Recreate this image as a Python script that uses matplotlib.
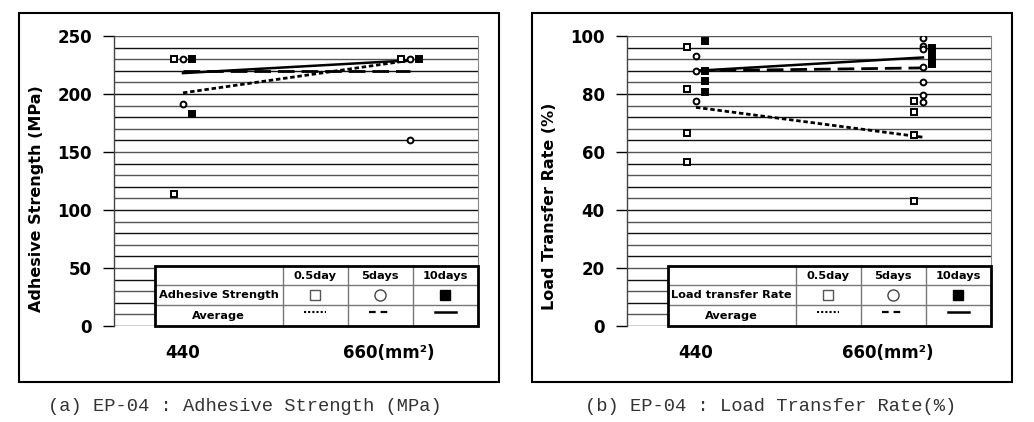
import numpy as np
import matplotlib.pyplot as plt
from matplotlib.lines import Line2D
from matplotlib.patches import Rectangle

# categories (bonded area, mm^2)
sizes = ['440', '660(mm²)']

# (a) adhesive strength, MPa -- visible points per category
adh_05day = [[230, 114], [230]]
adh_5days = [[230, 191], [230, 160]]
adh_10days = [[230, 183], [230]]
adh_avg_05day = [201, 229]
adh_avg_5days = [220, 220]
adh_avg_10days = [218, 229]

# (b) load transfer rate, %
ltr_05day = [[96.3, 81.7, 66.7, 56.7], [77.5, 73.8, 65.9, 43.0]]
ltr_5days = [[93.2, 88.0, 77.7], [99.4, 96.7, 95.5, 89.2, 84.1, 79.8, 77.4]]
ltr_10days = [[98.3, 88.0, 84.4, 80.7], [95.8, 93.4, 91.2, 90.2]]
ltr_avg_05day = [75.4, 65.1]
ltr_avg_5days = [88.0, 89.0]
ltr_avg_10days = [88.0, 92.6]

legend_cols = ['0.5day', '5days', '10days']

W, H = 1034, 422
fig = plt.figure(figsize=(W / 100, H / 100), dpi=100)

ls_05 = (0, (1.6, 1.0))
ls_5 = (0, (6, 2.5))


def draw_panel(left_px, data, avgs, ymax, ystep, ymajor, ylabel, rowlabel, xlab_pos, ylab_y):
    ax = fig.add_axes([left_px / W, (H - 326) / H, 364 / W, 290 / H])
    ax.set_xlim(-0.304, 1.30)
    ax.set_ylim(0, ymax)

    # horizontal grid
    for i, v in enumerate(np.arange(0, ymax + ystep / 2, ystep)):
        ax.axhline(v, color='#111' if i % 2 == 0 else '#555', lw=1.0, zorder=1)

    ax.set_yticks(np.arange(0, ymax + 1, ymajor))
    ax.tick_params(axis='y', length=8, width=1, color='black', pad=8,
                   labelsize=12)
    for t in ax.get_yticklabels():
        t.set_fontweight('bold')
    ax.set_xticks([])
    for s in ['top', 'bottom']:
        ax.spines[s].set_visible(False)
    ax.spines['left'].set_color('#444')
    ax.spines['right'].set_color('#888')
    ax.spines['left'].set_linewidth(1)
    ax.spines['right'].set_linewidth(0.8)

    ax.set_ylabel(ylabel, fontsize=11.5, fontweight='bold')
    ax.yaxis.set_label_coords(-0.193, ylab_y)

    # points
    offs = [-0.04, 0.0, 0.04]
    styles = [dict(marker='s', mfc='white', mec='black'),
              dict(marker='o', mfc='white', mec='black'),
              dict(marker='s', mfc='black', mec='black')]
    for series, off, st in zip(data, offs, styles):
        for ci, vals in enumerate(series):
            ax.plot([ci + off] * len(vals), vals, ls='none', ms=4.2, mew=1.4,
                    zorder=4, **st)

    # averages
    xs = np.arange(len(sizes))
    ax.plot(xs, avgs[0], color='black', lw=2.0, ls=ls_05, zorder=3)
    ax.plot(xs, avgs[1], color='black', lw=2.0, ls=ls_5, zorder=3)
    ax.plot(xs, avgs[2], color='black', lw=1.8, zorder=3)

    # x labels
    for x, lab in zip(xlab_pos, sizes):
        ax.text(x, -0.093, lab, transform=ax.get_xaxis_transform(),
                ha='center', va='center', fontsize=12, fontweight='bold')

    # legend table
    tx = [0.112, 0.463, 0.642, 0.821, 1.0]
    ty = [0.0, 0.072, 0.141, 0.207]
    tr = ax.transAxes
    ax.add_patch(Rectangle((tx[0], 0), 1 - tx[0], ty[3], transform=tr,
                           facecolor='white', edgecolor='none', zorder=5))
    for x in tx[1:-1]:
        ax.add_line(Line2D([x, x], [0, ty[3]], transform=tr, color='#777', lw=1, zorder=6))
    for y in ty[1:3]:
        ax.add_line(Line2D([tx[0], 1], [y, y], transform=tr, color='#777', lw=1, zorder=6))
    ax.add_patch(Rectangle((tx[0], 0), 1 - tx[0], ty[3], transform=tr,
                           facecolor='none', edgecolor='black', lw=2, zorder=7,
                           clip_on=False))
    cx = [(tx[i] + tx[i + 1]) / 2 for i in range(4)]
    cy = [(ty[i] + ty[i + 1]) / 2 for i in range(3)]
    kw = dict(transform=tr, ha='center', va='center', fontsize=8.2,
              fontweight='bold', zorder=8)
    for c, lab in zip(cx[1:], legend_cols):
        ax.text(c, cy[2], lab, **kw)
    ax.text(cx[0], cy[1], rowlabel, **kw)
    ax.text(cx[0], cy[0], 'Average', **kw)
    ax.plot(cx[1], cy[1], transform=tr, marker='s', ms=7.5, mfc='white', mec='#555', mew=1, zorder=8)
    ax.plot(cx[2], cy[1], transform=tr, marker='o', ms=8, mfc='white', mec='#444', mew=1, zorder=8)
    ax.plot(cx[3], cy[1], transform=tr, marker='s', ms=7.5, mfc='black', mec='black', zorder=8)
    d = 0.03
    yl = cy[0] + 0.012
    ax.add_line(Line2D([cx[1] - d, cx[1] + d], [yl] * 2, transform=tr, color='black', lw=1.5, ls=(0, (1, 1)), zorder=8))
    ax.add_line(Line2D([cx[2] - d, cx[2] + d], [yl] * 2, transform=tr, color='black', lw=1.6, ls=(0, (3, 2.2)), zorder=8))
    ax.add_line(Line2D([cx[3] - d, cx[3] + d], [yl] * 2, transform=tr, color='black', lw=1.8, zorder=8))
    return ax


draw_panel(114, [adh_05day, adh_5days, adh_10days],
           [adh_avg_05day, adh_avg_5days, adh_avg_10days],
           250, 10, 50, 'Adhesive Strength (MPa)', 'Adhesive Strength',
           [0.0, 0.907], 0.44)
draw_panel(627, [ltr_05day, ltr_5days, ltr_10days],
           [ltr_avg_05day, ltr_avg_5days, ltr_avg_10days],
           100, 4, 20, 'Load Transfer Rate (%)', 'Load transfer Rate',
           [0.0, 0.846], 0.414)

# outer frames
for x0 in [19, 532]:
    fig.add_artist(Rectangle((x0 / W, (H - 382) / H), 480 / W, 369 / H,
                             transform=fig.transFigure, facecolor='none',
                             edgecolor='black', lw=1.5))

fig.text(245 / W, 0.036, '(a) EP-04 : Adhesive Strength (MPa)', ha='center',
         va='center', family='Liberation Mono', fontsize=13.5, color='#333')
fig.text(771 / W, 0.036, '(b) EP-04 : Load Transfer Rate(%)', ha='center',
         va='center', family='Liberation Mono', fontsize=13.5, color='#333')

fig.savefig('out.png', dpi=100)
